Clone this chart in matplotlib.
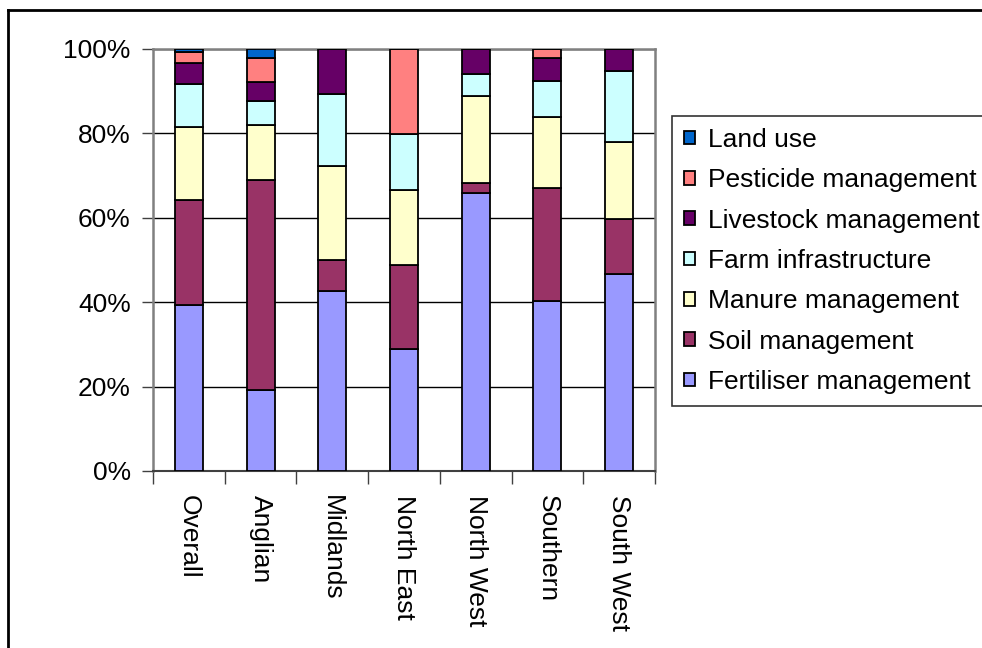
import matplotlib
matplotlib.use("Agg")
import matplotlib.pyplot as plt
from matplotlib.lines import Line2D
from matplotlib.ticker import PercentFormatter
import numpy as np

plt.rcParams['font.family'] = ['Liberation Sans', 'DejaVu Sans']

regions = ['Overall', 'Anglian', 'Midlands', 'North East', 'North West', 'Southern', 'South West']

# percent share of each measure type, bottom to top
fertiliser = [39.4, 19.2, 42.7, 28.9, 65.8, 40.3, 46.8]
soil = [24.7, 49.8, 7.3, 19.9, 2.4, 26.8, 12.8]
manure = [17.5, 13.0, 22.3, 17.8, 20.7, 16.9, 18.4]
farm_infra = [10.1, 5.6, 17.0, 13.3, 5.2, 8.5, 16.9]
livestock = [4.9, 4.5, 10.7, 0.0, 5.9, 5.4, 5.1]
pesticide = [2.6, 5.7, 0.0, 20.1, 0.0, 2.1, 0.0]
land_use = [0.8, 2.2, 0.0, 0.0, 0.0, 0.0, 0.0]

series = [
    ('Fertiliser management', fertiliser, '#9999FF'),
    ('Soil management', soil, '#993366'),
    ('Manure management', manure, '#FFFFCC'),
    ('Farm infrastructure', farm_infra, '#CCFFFF'),
    ('Livestock management', livestock, '#660066'),
    ('Pesticide management', pesticide, '#FF8080'),
    ('Land use', land_use, '#0066CC'),
]

fig = plt.figure(figsize=(9.82, 6.48), dpi=100)
ax = fig.add_axes([153/982, 1-471/648, 502/982, 422/648])

x = np.arange(len(regions))
bottom = np.zeros(len(regions))
handles = []
for name, vals, col in series:
    vals = np.array(vals)
    b = ax.bar(x, vals, width=0.39, bottom=bottom, color=col,
               edgecolor='black', linewidth=1.3, label=name, zorder=3)
    handles.append(b)
    bottom += vals

ax.set_xlim(-0.5, len(regions) - 0.5)
ax.set_ylim(0, 100)
ax.set_yticks(np.arange(0, 101, 20))
ax.yaxis.set_major_formatter(PercentFormatter(decimals=0))
ax.yaxis.grid(True, color='black', linewidth=1, zorder=0)

ax.set_xticks(x)
ax.set_xticklabels(regions, rotation=-90, va='top', ha='center')
ax.set_xticks(np.arange(-0.5, len(regions)), minor=True)
ax.tick_params(axis='x', which='major', length=0, pad=17, labelsize=19)
ax.tick_params(axis='x', which='minor', length=9, width=1, color='#404040')
ax.tick_params(axis='y', length=8, width=1, color='#404040', pad=8, labelsize=19)

for s in ['top', 'right', 'left']:
    ax.spines[s].set_color('#808080')
    ax.spines[s].set_linewidth(1.8)
ax.spines['bottom'].set_color('#404040')
ax.spines['bottom'].set_linewidth(1.5)

# outer chart frame (right and bottom edges fall outside the image)
fig.add_artist(Line2D([8/982, 8/982], [0, 1-10/648], transform=fig.transFigure,
                      color='black', linewidth=2))
fig.add_artist(Line2D([8/982, 1], [1-10/648, 1-10/648], transform=fig.transFigure,
                      color='black', linewidth=2))

leg = fig.legend(handles[::-1], [s[0] for s in series][::-1],
                 loc='upper left', bbox_to_anchor=(672/982, 1-116/648),
                 fontsize=19, frameon=True, fancybox=False, edgecolor='black',
                 borderpad=0.45, labelspacing=0.62, handlelength=0.42,
                 handleheight=0.42, handletextpad=0.5, borderaxespad=0)
leg.get_frame().set_linewidth(1.2)

fig.savefig('out.png', dpi=100)
